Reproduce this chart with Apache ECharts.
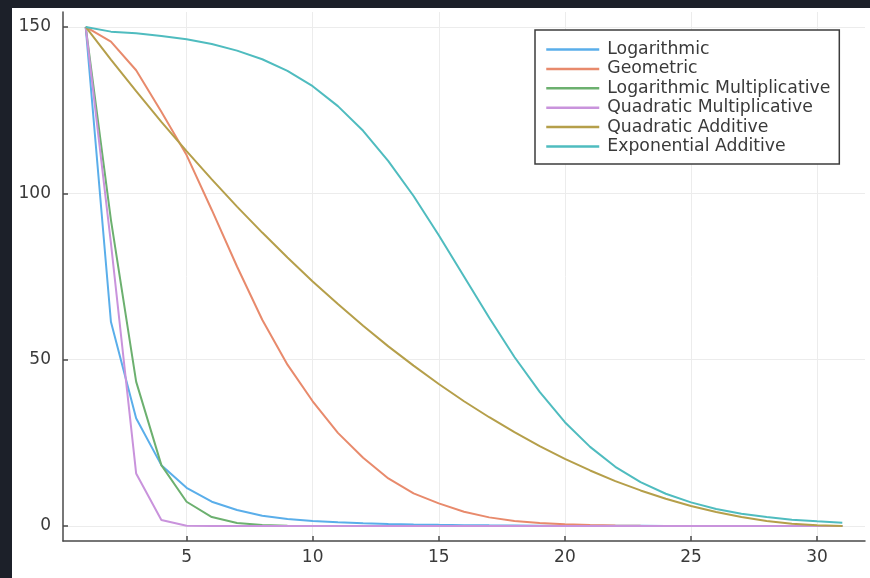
<!DOCTYPE html>
<html>
<head>
<meta charset="utf-8">
<script src="https://cdn.jsdelivr.net/npm/echarts@6/dist/echarts.min.js"></script>
<style>
html,body{margin:0;padding:0;width:870px;height:578px;overflow:hidden;background:#1c2029;}
#chart{position:absolute;left:12px;top:8px;width:858px;height:570px;background:#ffffff;}
</style>
</head>
<body>
<div id="chart"></div>
<script>
const xs = [1,2,3,4,5,6,7,8,9,10,11,12,13,14,15,16,17,18,19,20,21,22,23,24,25,26,27,28,29,30,31];
const xTicks = [5,10,15,20,25,30];
const yTicks = [0,50,100,150];

const seriesNames = ['Logarithmic','Geometric','Logarithmic Multiplicative','Quadratic Multiplicative','Quadratic Additive','Exponential Additive'];

const logarithmic = [150,61.4,32.4,18.3,11.5,7.3,4.8,3.1,2.1,1.5,1.1,0.8,0.6,0.45,0.35,0.27,0.2,0.16,0.12,0.1,0.08,0.06,0.05,0.04,0.03,0.03,0.02,0.02,0.02,0.01,0.01];
const geometric = [150,145.6,137,124.5,111.5,95,78,62,48.5,37.5,28,20.5,14.3,9.8,6.8,4.3,2.6,1.5,0.9,0.5,0.3,0.15,0.08,0.04,0.02,0.01,0,0,0,0,0];
const logMultiplicative = [150,92,43.4,18.3,7.3,2.7,0.9,0.3,0.1,0.03,0.01,0,0,0,0,0,0,0,0,0,0,0,0,0,0,0,0,0,0,0,0];
const quadMultiplicative = [150,85,15.8,1.8,0.1,0,0,0,0,0,0,0,0,0,0,0,0,0,0,0,0,0,0,0,0,0,0,0,0,0,0];
const quadAdditive = [150,140.2,130.7,121.5,112.7,104.2,96,88.2,80.7,73.5,66.7,60.2,54,48.2,42.7,37.5,32.7,28.2,24,20.2,16.7,13.5,10.7,8.2,6,4.2,2.7,1.5,0.7,0.2,0];
const expAdditive = [150,148.6,148.1,147.3,146.3,144.9,142.9,140.3,136.8,132.2,126.2,118.8,109.7,99.2,87.4,75,62.6,50.8,40.3,31.2,23.8,17.8,13.2,9.7,7.1,5.1,3.7,2.7,1.9,1.4,1.0];

const allValues = [logarithmic, geometric, logMultiplicative, quadMultiplicative, quadAdditive, expAdditive];
const colors = ['#5aaeea','#e88a6c','#6cb06f','#c993dc','#b59f4a','#4fbcbf'];

const chart = echarts.init(document.getElementById('chart'), null, {renderer:'canvas'});
const axisColor = '#4a4a4a';
const font = 'DejaVu Sans';

chart.setOption({
  animation:false,
  backgroundColor:'#ffffff',
  grid:{left:51, right:5, top:4, bottom:37, containLabel:false},
  xAxis:{
    type:'value', min:0.1, max:31.9,
    axisLine:{show:true, onZero:false, lineStyle:{color:axisColor, width:1.5}},
    axisTick:{show:true, inside:true, length:5, customValues:xTicks, lineStyle:{color:axisColor, width:1.5}},
    axisLabel:{customValues:xTicks, color:'#3a3a3a', fontFamily:font, fontSize:17, margin:8},
    splitLine:{show:true, lineStyle:{color:'#ececec', width:1}}
  },
  yAxis:{
    type:'value', min:-4.5, max:154.5,
    axisLine:{show:true, onZero:false, lineStyle:{color:axisColor, width:1.5}},
    axisTick:{show:true, inside:true, length:5, customValues:yTicks, lineStyle:{color:axisColor, width:1.5}},
    axisLabel:{customValues:yTicks, color:'#3a3a3a', fontFamily:font, fontSize:17, margin:12},
    splitLine:{show:true, lineStyle:{color:'#ececec', width:1}}
  },
  legend:{
    orient:'vertical', left:523, top:22,
    backgroundColor:'#ffffff', borderColor:'#3c3c3c', borderWidth:1.5, borderRadius:0,
    padding:[11,9,9,10],
    itemWidth:53, itemHeight:12, itemGap:2.4,
    itemStyle:{color:'rgba(0,0,0,0)', borderWidth:0, borderColor:'rgba(0,0,0,0)'},
    lineStyle:{width:2.5},
    textStyle:{fontFamily:font, fontSize:17.3, lineHeight:17, color:'#3a3a3a', padding:[0,0,0,3]},
    data:seriesNames
  },
  series: seriesNames.map((name,i)=>({
    name:name, type:'line', symbol:'none', smooth:false,
    color:colors[i],
    lineStyle:{width:2, color:colors[i]},
    data: xs.map((x,j)=>[x, allValues[i][j]])
  }))
});
</script>
</body>
</html>
